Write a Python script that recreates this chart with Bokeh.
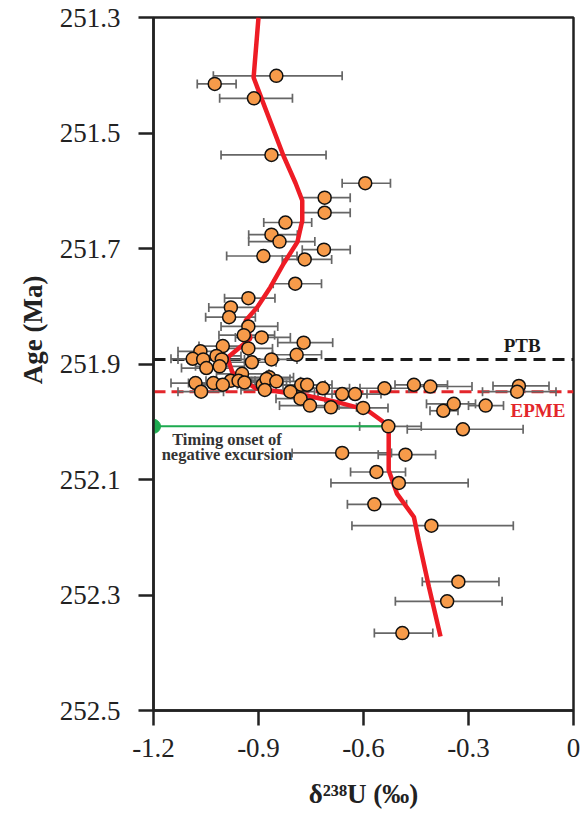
from bokeh.plotting import figure
from bokeh.models import (ColumnDataSource, Whisker, TeeHead, Span, Label, Title,
                          FixedTicker, CustomJSTickFormatter, Range1d)
from bokeh.embed import file_html
from bokeh.resources import INLINE

# --- delta238U measurements: age (Ma), value (permil), 2SD bar ends ---
age = [251.401, 251.415, 251.440, 251.538, 251.587, 251.612, 251.638, 251.655,
       251.676, 251.688, 251.702, 251.713, 251.719, 251.761, 251.786, 251.802,
       251.819, 251.835, 251.850, 251.854, 251.863, 251.869, 251.878, 251.873,
       251.886, 251.884, 251.891, 251.892, 251.892, 251.892, 251.897, 251.907,
       251.904, 251.917, 251.933, 251.933, 251.929, 251.929, 251.932, 251.936,
       251.948, 251.936, 251.923, 251.926, 251.930, 251.945, 251.936, 251.936,
       251.948, 251.942, 251.952, 251.952, 251.942, 251.936, 251.939, 251.938,
       251.948, 251.960, 251.972, 251.975, 251.976, 251.981, 251.969, 251.972,
       252.008, 252.013, 252.054, 252.057, 252.087, 252.106, 252.143, 252.180,
       252.277, 252.311, 252.366]
d238u = [-0.849, -1.025, -0.913, -0.863, -0.595, -0.711, -0.711, -0.823,
         -0.863, -0.840, -0.713, -0.886, -0.768, -0.795, -0.929, -0.979,
         -0.984, -0.929, -0.942, -0.891, -0.771, -1.002, -1.066, -0.929,
         -1.020, -0.791, -1.088, -1.058, -1.005, -0.863, -0.919, -1.049,
         -1.011, -0.947, -1.080, -1.029, -0.979, -0.957, -0.940, -1.002,
         -1.064, -0.888, -0.869, -0.877, -0.849, -0.882, -0.778, -0.761,
         -0.809, -0.716, -0.661, -0.624, -0.540, -0.456, -0.409, -0.156,
         -0.161, -0.780, -0.753, -0.693, -0.601, -0.372, -0.342, -0.251,
         -0.529, -0.316, -0.661, -0.480, -0.563, -0.499, -0.569, -0.406,
         -0.329, -0.361, -0.489]
err_lo = [-1.029, -1.075, -1.011, -1.007, -0.661, -0.778, -0.775, -0.885,
          -0.928, -0.928, -0.775, -0.991, -0.832, -0.858, -0.997, -1.042,
          -1.051, -1.007, -1.013, -0.966, -0.845, -1.070, -1.130, -1.000,
          -1.090, -0.860, -1.150, -1.130, -1.080, -0.940, -0.990, -1.120,
          -1.080, -1.020, -1.150, -1.100, -1.050, -1.030, -1.010, -1.070,
          -1.130, -0.960, -0.940, -0.950, -0.920, -0.950, -0.850, -0.830,
          -0.880, -0.790, -0.730, -0.690, -0.610, -0.510, -0.470, -0.230,
          -0.260, -0.850, -0.840, -0.760, -0.680, -0.410, -0.420, -0.300,
          -0.611, -0.475, -0.804, -0.558, -0.637, -0.693, -0.646, -0.633,
          -0.432, -0.509, -0.569]
err_hi = [-0.661, -0.964, -0.803, -0.707, -0.523, -0.638, -0.638, -0.748,
          -0.789, -0.739, -0.638, -0.790, -0.691, -0.720, -0.853, -0.901,
          -0.909, -0.845, -0.854, -0.809, -0.688, -0.930, -1.000, -0.860,
          -0.950, -0.720, -1.020, -0.990, -0.930, -0.790, -0.850, -0.980,
          -0.940, -0.870, -1.010, -0.960, -0.910, -0.890, -0.870, -0.930,
          -1.000, -0.820, -0.800, -0.810, -0.780, -0.810, -0.710, -0.690,
          -0.740, -0.640, -0.590, -0.550, -0.470, -0.360, -0.290, -0.070,
          -0.050, -0.710, -0.670, -0.620, -0.530, -0.330, -0.280, -0.200,
          -0.435, -0.144, -0.520, -0.394, -0.480, -0.301, -0.477, -0.172,
          -0.213, -0.204, -0.402]

# --- smoothed trend curve ---
trend_age = [251.300, 251.404, 251.444, 251.539, 251.587, 251.617, 251.652,
             251.689, 251.726, 251.767, 251.802, 251.825, 251.856, 251.889,
             251.915, 251.942, 251.955, 251.966, 251.980, 252.007, 252.084,
             252.125, 252.165, 252.206, 252.286, 252.372]
trend_val = [-0.900, -0.914, -0.889, -0.829, -0.794, -0.775, -0.775,
             -0.789, -0.828, -0.866, -0.904, -0.937, -0.923, -0.989,
             -0.974, -0.909, -0.761, -0.675, -0.589, -0.528, -0.528,
             -0.504, -0.456, -0.442, -0.413, -0.380]

# --- event horizons ---
PTB_AGE = 251.892
EPME_AGE = 251.948
ONSET_AGE = 252.008
ONSET_VAL = -0.529

x_ticks = [-1.2, -0.9, -0.6, -0.3, 0.0]
y_ticks = [251.3, 251.5, 251.7, 251.9, 252.1, 252.3, 252.5]

SERIF = "Liberation Serif"
INK = "#222222"

p = figure(width=584, height=814, output_backend="svg", toolbar_location=None,
           x_range=Range1d(-1.2, 0.0), y_range=Range1d(252.5, 251.3),
           min_border_left=153, min_border_right=11, min_border_top=17,
           min_border_bottom=104)
p.background_fill_color = "white"
p.border_fill_color = "white"
p.grid.visible = False
p.outline_line_color = INK
p.outline_line_width = 2.5

for ax in (p.xaxis[0], p.yaxis[0]):
    ax.axis_line_color = INK
    ax.axis_line_width = 2.5
    ax.major_tick_line_color = INK
    ax.major_tick_line_width = 2.5
    ax.major_tick_out = 15
    ax.major_tick_in = 0
    ax.minor_tick_line_color = None
    ax.major_label_text_font = SERIF
    ax.major_label_text_font_size = "27px"
    ax.major_label_text_color = INK

p.xaxis.ticker = FixedTicker(ticks=x_ticks)
p.yaxis.ticker = FixedTicker(ticks=y_ticks)
p.xaxis.formatter = CustomJSTickFormatter(
    code="return Math.abs(tick) < 1e-9 ? '0' : tick.toFixed(1);")
p.yaxis.formatter = CustomJSTickFormatter(code="return tick.toFixed(1);")
p.xaxis.major_label_standoff = 13
p.yaxis.major_label_standoff = 18

# axis titles
p.xaxis.axis_label = "δ²³⁸U (‰)"
p.xaxis.axis_label_text_font = SERIF
p.xaxis.axis_label_text_font_style = "bold"
p.xaxis.axis_label_text_font_size = "27px"
p.xaxis.axis_label_text_color = INK
p.xaxis.axis_label_standoff = 19
p.yaxis.axis_label = None
p.add_layout(Title(text="Age (Ma)", align="right", offset=258,
                   text_font=SERIF, text_font_style="bold",
                   text_font_size="27px", text_color=INK,
                   standoff=18), "left")

# horizon lines
ptb = Span(location=PTB_AGE, dimension="width", line_color="#1a1a1a",
           line_width=3, line_dash="12 7", level="underlay")
epme = Span(location=EPME_AGE, dimension="width", line_color="#E3262B",
            line_width=3, line_dash="12 6", level="underlay")
p.add_layout(ptb)
p.add_layout(epme)

src = ColumnDataSource(dict(age=age, val=d238u, lo=err_lo, hi=err_hi))

bar_col = "#666666"
wh = Whisker(source=src, base="age", lower="lo", upper="hi", dimension="width",
             line_color=bar_col, line_width=1.7, level="underlay",
             lower_head=TeeHead(size=9, line_color=bar_col, line_width=1.7),
             upper_head=TeeHead(size=9, line_color=bar_col, line_width=1.7))
p.add_layout(wh)

# onset marker
p.line(x=[x_ticks[0], ONSET_VAL], y=[ONSET_AGE, ONSET_AGE],
       line_color="#1DAA4F", line_width=2)
p.scatter(x=[x_ticks[0]], y=[ONSET_AGE], size=14, fill_color="#1DAA4F",
          line_color="#1DAA4F")

# trend curve
p.line(x=trend_val, y=trend_age, line_color="#EE1C25", line_width=4.5)

# samples
p.scatter(x="val", y="age", source=src, size=13, fill_color="#F79B4A",
          line_color="#111111", line_width=1.5)

# annotations
p.add_layout(Label(x=-0.094, y=251.868, text="PTB", text_font=SERIF,
                   text_font_style="bold", text_font_size="19px",
                   text_color="#1a1a1a", text_align="right",
                   text_baseline="middle"))
p.add_layout(Label(x=-0.023, y=251.980, text="EPME", text_font=SERIF,
                   text_font_style="bold", text_font_size="19px",
                   text_color="#E3262B", text_align="right",
                   text_baseline="middle"))
p.add_layout(Label(x=-0.990, y=252.030, text="Timing onset of",
                   text_font=SERIF, text_font_style="bold",
                   text_font_size="16.5px", text_color="#333333",
                   text_align="center", text_baseline="middle"))
p.add_layout(Label(x=-0.990, y=252.056, text="negative excursion",
                   text_font=SERIF, text_font_style="bold",
                   text_font_size="16.5px", text_color="#333333",
                   text_align="center", text_baseline="middle"))

open("out.html", "w").write(file_html(p, INLINE))
